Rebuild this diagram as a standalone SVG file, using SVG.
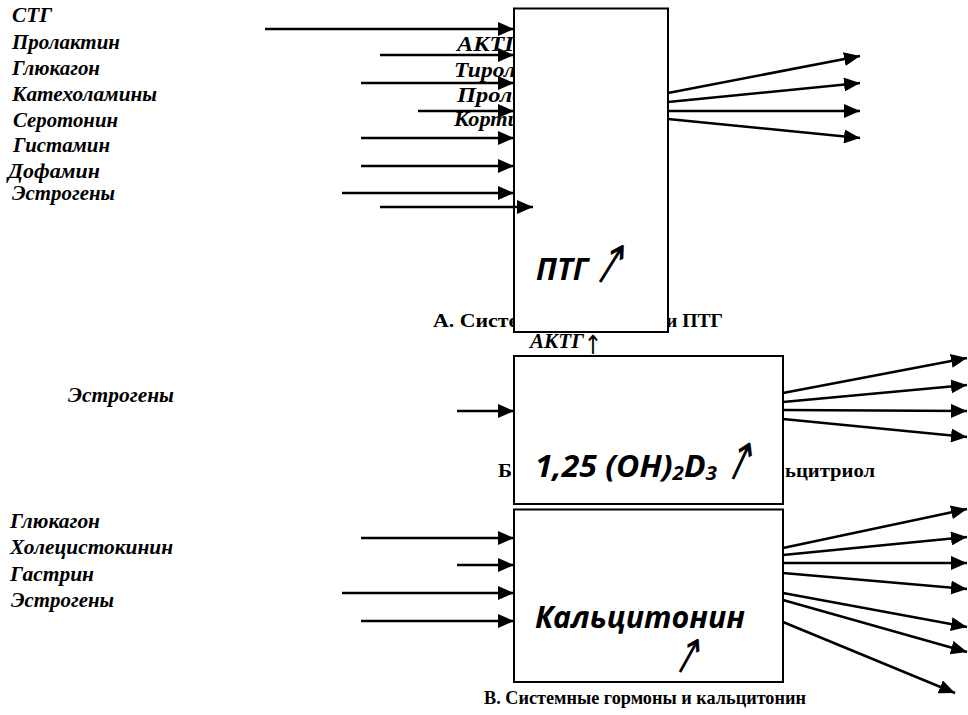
<svg xmlns="http://www.w3.org/2000/svg" width="968" height="715" viewBox="0 0 968 715">
<style>
.lbl{font-family:"Liberation Serif","DejaVu Serif",serif;font-weight:bold;font-style:italic;font-size:21px;fill:#000}
.cap{font-family:"Liberation Serif","DejaVu Serif",serif;font-weight:bold;font-size:18px;fill:#000}
.big{font-family:"Open Sans","Liberation Sans",sans-serif;font-weight:bold;font-style:italic;font-size:31px;fill:#000}
.arw{font-family:"DejaVu Sans",sans-serif;font-weight:normal;fill:#000}
.box{fill:#fff;stroke:#000;stroke-width:2}
.con line{stroke:#000;stroke-width:2.5;marker-end:url(#ah)}
</style>
<defs>
<marker id="ah" markerUnits="userSpaceOnUse" markerWidth="16" markerHeight="14" refX="16" refY="7" orient="auto" viewBox="0 0 16 14">
<path d="M0,0 L16,7 L0,14 z" fill="#000"/>
</marker>
</defs>
<rect width="968" height="715" fill="#fff"/>

<g id="labels-a">
<text class="lbl" x="12" y="22" textLength="40" lengthAdjust="spacingAndGlyphs">СТГ</text>
<text class="lbl" x="12" y="49" textLength="108" lengthAdjust="spacingAndGlyphs">Пролактин</text>
<text class="lbl" x="12" y="75" textLength="88" lengthAdjust="spacingAndGlyphs">Глюкагон</text>
<text class="lbl" x="12" y="101" textLength="145" lengthAdjust="spacingAndGlyphs">Катехоламины</text>
<text class="lbl" x="13" y="127" textLength="105" lengthAdjust="spacingAndGlyphs">Серотонин</text>
<text class="lbl" x="13" y="152" textLength="97" lengthAdjust="spacingAndGlyphs">Гистамин</text>
<text class="lbl" x="8" y="178" textLength="92" lengthAdjust="spacingAndGlyphs">Дофамин</text>
<text class="lbl" x="12" y="200" textLength="103" lengthAdjust="spacingAndGlyphs">Эстрогены</text>
<text class="lbl" x="457" y="51" textLength="62" lengthAdjust="spacingAndGlyphs">АКТГ</text>
<text class="lbl" x="454" y="77" textLength="75" lengthAdjust="spacingAndGlyphs">Тироли</text>
<text class="lbl" x="457" y="102" textLength="80" lengthAdjust="spacingAndGlyphs">Пролак</text>
<text class="lbl" x="454" y="126" textLength="66" lengthAdjust="spacingAndGlyphs">Корти</text>
<text class="cap" x="433" y="327" textLength="100" lengthAdjust="spacingAndGlyphs">А. Систем</text>
<text class="cap" x="666" y="327" textLength="57" lengthAdjust="spacingAndGlyphs">и ПТГ</text>
</g>

<g id="labels-b">
<text class="lbl" x="68" y="402" textLength="106" lengthAdjust="spacingAndGlyphs">Эстрогены</text>
<text class="cap" x="498" y="477" textLength="14" lengthAdjust="spacingAndGlyphs">Б</text>
<text class="cap" x="785" y="477" textLength="90" lengthAdjust="spacingAndGlyphs">ьцитриол</text>
</g>

<g id="labels-c">
<text class="lbl" x="10" y="528" textLength="90" lengthAdjust="spacingAndGlyphs">Глюкагон</text>
<text class="lbl" x="10" y="554" textLength="163" lengthAdjust="spacingAndGlyphs">Холецистокинин</text>
<text class="lbl" x="10" y="581" textLength="84" lengthAdjust="spacingAndGlyphs">Гастрин</text>
<text class="lbl" x="11" y="607" textLength="103" lengthAdjust="spacingAndGlyphs">Эстрогены</text>
<text class="cap" x="484" y="704" textLength="322" lengthAdjust="spacingAndGlyphs">В. Системные гормоны и кальцитонин</text>
</g>

<g id="node-ptg">
<rect class="box" x="514" y="8.5" width="154" height="323.5"/>
<text class="big" x="536" y="280" textLength="52" lengthAdjust="spacingAndGlyphs">ПТГ</text>
<text class="arw" x="0" y="0" font-size="34" text-anchor="middle" transform="translate(600 282) rotate(32) scale(1 1.75)">↑</text>
</g>

<g id="label-aktg">
<text class="lbl" x="530" y="348" font-size="18" textLength="54" lengthAdjust="spacingAndGlyphs">АКТГ</text>
<text class="arw" x="0" y="0" font-size="22" text-anchor="middle" transform="translate(593 354) scale(1 1.2)">↑</text>
</g>

<g id="node-calcitriol">
<rect class="box" x="514" y="356" width="269" height="148"/>
<text class="big" x="535" y="477" textLength="182" lengthAdjust="spacingAndGlyphs">1,25 (OH)<tspan font-size="20" dy="3">2</tspan><tspan dy="-3">D</tspan><tspan font-size="20" dy="3">3</tspan></text>
<text class="arw" x="0" y="0" font-size="34" text-anchor="middle" transform="translate(733 479) rotate(25) scale(1 1.6)">↑</text>
</g>

<g id="node-calcitonin">
<rect class="box" x="514" y="509.5" width="269" height="172.5"/>
<text class="big" x="535" y="628" textLength="210" lengthAdjust="spacingAndGlyphs">Кальцитонин</text>
<text class="arw" x="0" y="0" font-size="32" text-anchor="middle" transform="translate(680 672) rotate(29) scale(1 1.6)">↑</text>
</g>

<g id="connectors" class="con">
<line x1="265" y1="29" x2="514" y2="29"/>
<line x1="380" y1="55" x2="514" y2="55"/>
<line x1="361" y1="83" x2="514" y2="83"/>
<line x1="418" y1="111" x2="514" y2="111"/>
<line x1="361" y1="138" x2="514" y2="138"/>
<line x1="361" y1="166" x2="514" y2="166"/>
<line x1="342" y1="193" x2="514" y2="193"/>
<line x1="380" y1="207" x2="533" y2="207"/>
<line x1="668" y1="93" x2="860" y2="56"/>
<line x1="668" y1="102" x2="860" y2="83"/>
<line x1="668" y1="111" x2="860" y2="111"/>
<line x1="668" y1="119" x2="860" y2="138"/>
<line x1="457" y1="411" x2="514" y2="411"/>
<line x1="783" y1="393" x2="967" y2="358"/>
<line x1="783" y1="402" x2="967" y2="385"/>
<line x1="783" y1="410" x2="967" y2="411"/>
<line x1="783" y1="419" x2="967" y2="437"/>
<line x1="361" y1="538" x2="514" y2="538"/>
<line x1="457" y1="565" x2="514" y2="565"/>
<line x1="342" y1="593" x2="514" y2="593"/>
<line x1="361" y1="621" x2="514" y2="621"/>
<line x1="783" y1="548" x2="967" y2="509"/>
<line x1="783" y1="555" x2="967" y2="537"/>
<line x1="783" y1="563" x2="967" y2="563"/>
<line x1="783" y1="573" x2="967" y2="589"/>
<line x1="783" y1="593" x2="967" y2="627"/>
<line x1="783" y1="600" x2="967" y2="652"/>
<line x1="783" y1="622" x2="955" y2="693"/>
</g>
</svg>
